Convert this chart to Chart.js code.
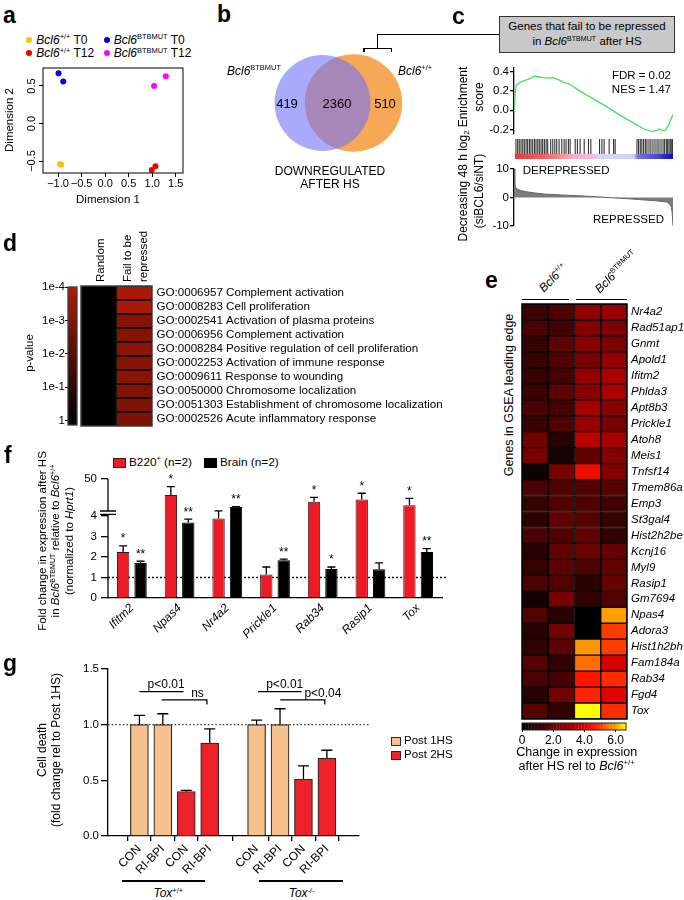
<!DOCTYPE html>
<html><head><meta charset="utf-8">
<script src="https://cdn.jsdelivr.net/npm/chart.js@4.4.1/dist/chart.umd.min.js"></script>
<style>
html,body{margin:0;padding:0;background:#fff}
body{width:684px;height:900px;position:relative;overflow:hidden;font-family:"Liberation Sans",Arial,Helvetica,sans-serif;color:#000}
canvas{position:absolute}
.t{position:absolute;white-space:nowrap;line-height:1}
.sp{font-size:0.62em;position:relative;top:-0.62em}
.shape{position:absolute;box-sizing:border-box}
</style></head><body>
<script>
// ================= DATA =================
// a: MDS plot
const mdsWtT0X=[-0.96,-0.93], mdsWtT0Y=[-0.54,-0.55];
const mdsWtT12X=[0.99,1.07], mdsWtT12Y=[-0.62,-0.57];
const mdsMutT0X=[-0.99,-0.89], mdsMutT0Y=[0.67,0.56];
const mdsMutT12X=[1.04,1.29], mdsMutT12Y=[0.50,0.63];
const mdsXTicks=[-1,-0.5,0,0.5,1,1.5];
const mdsYTicks=[-0.5,0,0.5];
// b: Venn (downregulated after HS)
const vennOnlyMut=419, vennBoth=2360, vennOnlyWT=510;
// c: GSEA
const esRank=[0,1,1.5,4.2,7.4,10.6,12.7,16.9,20.1,24.3,28.5,31.7,34.9,41.2,49.7,58.1,66.6,75.1,81.4,86.7,89.9,91.5,93.0,95.1,97.3,100];
const esScore=[0,0.22,0.26,0.29,0.31,0.33,0.35,0.34,0.33,0.335,0.31,0.285,0.27,0.20,0.12,0.04,-0.05,-0.13,-0.19,-0.22,-0.21,-0.19,-0.21,-0.21,-0.15,-0.04];
const esTicks=[-0.2,0,0.2,0.4];
const hitRanks=[0.6,1.7,2.7,3.8,4.9,5.9,7.0,8.0,9.1,10.1,11.2,12.3,13.3,14.4,15.4,16.5,17.5,18.6,19.7,20.7,22.6,23.9,25.2,26.4,27.9,29.6,31.1,32.3,33.8,34.9,38.1,39.5,41.2,43.8,46.5,48.0,53.5,55.0,56.4,59.6,62.4,63.4,77.2,78.2,79.3,80.3,81.4,82.5,83.5,84.8,86.0,87.3,88.6,89.9,91.1,92.4,93.7,94.7,95.8,96.6,97.5,98.3,99.2,99.8];
const metricRank=[0,0.5,1,2,4,8,13,19,30,41,52,62,72,83,90,96,98,99,99.5,100];
const metricVal=[10,5,3.5,3,2.5,2,1.6,1.2,0.9,0.6,0.25,-0.1,-0.45,-0.9,-1.2,-1.6,-2.3,-3.5,-5.5,-10];
const metricTicks=[-10,-5,0,5,10];
// d: GO enrichment
const goTerms=['GO:0006957 Complement activation','GO:0008283 Cell proliferation','GO:0002541 Activation of plasma proteins','GO:0006956 Complement activation','GO:0008284 Positive regulation of cell proliferation','GO:0002253 Activation of immune response','GO:0009611 Response to wounding','GO:0050000 Chromosome localization','GO:0051303 Establishment of chromosome localization','GO:0002526 Acute inflammatory response'];
const goPRandom=[1,1,1,1,1,1,1,1,1,1];
const goPFail=[1.3e-4,1.6e-4,1.0e-3,1.1e-3,8e-4,1.0e-3,8e-4,1.3e-3,1.2e-3,1.5e-3];
const pTicks=[1e-4,1e-3,1e-2,1e-1,1];
const pTickLabels=['1e-4','1e-3','1e-2','1e-1','1'];
// e: leading edge heatmap
const heatGenes=['Nr4a2','Rad51ap1','Gnmt','Apold1','Ifitm2','Phlda3','Apt8b3','Prickle1','Atoh8','Meis1','Tnfsf14','Tmem86a','Emp3','St3gal4','Hist2h2be','Kcnj16','Myl9','Rasip1','Gm7694','Npas4','Adora3','Hist1h2bh','Fam184a','Rab34','Fgd4','Tox'];
const heatWt1 =[1.2,1.5,1.1,1.1,1.1,1.2,1.5,1.2,2.2,2.3,0.3,1.5,1.1,0.9,1.5,0.8,1.1,1.5,0.4,1.6,0.8,1.0,1.7,1.5,0.8,1.7];
const heatWt2 =[1.6,1.3,1.8,1.6,1.4,1.8,1.4,1.6,0.8,0.5,2.3,1.6,1.6,1.9,1.6,1.9,1.8,1.6,2.3,0.8,2.2,1.8,1.0,1.4,2.2,1.0];
const heatMut1=[2.7,2.5,2.6,2.3,2.8,2.6,3.1,2.9,3.5,1.9,4.3,1.6,1.6,1.7,1.9,2.1,1.5,0.9,1.0,0.0,0.0,5.9,5.5,4.5,4.7,6.6];
const heatMut2=[2.9,2.4,2.4,2.8,3.2,3.2,2.6,2.3,3.1,2.5,2.5,1.7,1.3,1.1,1.0,2.0,1.9,2.0,1.6,6.0,5.0,5.0,4.0,4.8,4.1,4.8];
const heatTicks=[0,2,4,6];
const heatTickLabels=['0','2.0','4.0','6.0'];
// f: qPCR fold change
const fGenes=['Ifitm2','Npas4','Nr4a2','Prickle1','Rab34','Rasip1','Tox'];
const b220Mean=[2.24,27.1,3.87,1.14,17.2,20.7,12.3];
const b220Sem =[0.30,12.0,0.41,0.37,6.4,8.8,9.8];
const brainMean=[1.71,3.68,10.0,1.84,1.41,1.40,2.24];
const brainSem =[0.08,0.16,0.3,0.05,0.10,0.31,0.17];
const b220Sig=['*','*','','','*','*','*'];
const brainSig=['**','**','**','**','*','','**'];
const fTickVals=[0,1,2,3,4,50];
// g: cell death
const gCond=['CON','RI-BPI','CON','RI-BPI','CON','RI-BPI','CON','RI-BPI'];
const gPos=[0,1,2,3,5,6,7,8];
const gHS=[1,1,2,2,1,1,2,2];
const gMean=[1.0,1.0,0.40,0.835,1.0,1.0,0.51,0.70];
const gSem=[0.083,0.098,0.01,0.128,0.04,0.143,0.12,0.07];
const gYTicks=[0,0.5,1,1.5];
const gBrFrom=[0,0.95,5.06,6.01], gBrTo=[1.88,2.88,6.92,7.91], gBrY=[1.296,1.222,1.296,1.222], gBrTick=[false,true,false,true];
const gBrText=['p<0.01','ns','p<0.01','p<0.04'], gBrTextX=[1.14,2.48,6.2,7.83], gBrTextY=[1.356,1.282,1.356,1.282];

// ================= HELPERS =================
Chart.defaults.font.family='"Liberation Sans", Arial, Helvetica, sans-serif';
Chart.defaults.font.size=11.5;
Chart.defaults.color='#000';
Chart.defaults.animation=false;
Chart.defaults.events=[];
Chart.defaults.layout.autoPadding=false;
Chart.defaults.plugins.legend.display=false;
Chart.defaults.plugins.tooltip.enabled=false;

function mkCanvas(a,m){const c=document.createElement('canvas');const w=a.r-a.l+m.l+m.r,h=a.b-a.t+m.t+m.b;c.width=w;c.height=h;c.style.left=(a.l-m.l)+'px';c.style.top=(a.t-m.t)+'px';c.style.width=w+'px';c.style.height=h+'px';document.body.appendChild(c);return c;}
function zeroPad(s){s.paddingLeft=s.paddingRight=s.paddingTop=s.paddingBottom=0;}
const fitW=w=>s=>{s.width=w;zeroPad(s);};
const fitH=h=>s=>{s.height=h;zeroPad(s);};
const setTicks=vals=>s=>{s.ticks=vals.map(v=>({value:v}));};
const frame=(c,w)=>({id:'frame',afterDatasetsDraw(ch){const {ctx,chartArea:a}=ch;ctx.save();ctx.strokeStyle=c;ctx.lineWidth=w;ctx.strokeRect(a.left,a.top,a.right-a.left,a.bottom-a.top);ctx.restore();}});
function lerpStops(stops,v){if(v<=stops[0][0])return stops[0][1];for(let i=1;i<stops.length;i++){if(v<=stops[i][0]){const [a,ca]=stops[i-1],[b,cb]=stops[i];const t=(v-a)/(b-a);return ca.map((c,k)=>Math.round(c+(cb[k]-c)*t));}}return stops[stops.length-1][1];}
const heatStops=[[0,[0,0,0]],[1,[48,2,2]],[2,[102,2,2]],[3,[160,0,0]],[4,[215,0,0]],[4.5,[255,20,0]],[5,[255,60,0]],[5.5,[255,110,0]],[6,[255,160,0]],[6.6,[255,255,0]]];
const heatColor=v=>'rgb('+lerpStops(heatStops,v).join(',')+')';
const pStops=[[0,[0,0,0]],[4,[178,26,6]]];
const pColor=p=>'rgb('+lerpStops(pStops,-Math.log10(p)).join(',')+')';
const fmt1=v=>(v<0?'\u2212':'')+Math.abs(v).toFixed(1);

function T(x,y,html,o={}){const d=document.createElement('div');d.className='t';d.innerHTML=html;d.style.fontSize=(o.s||11.5)+'px';if(o.b)d.style.fontWeight='bold';if(o.i)d.style.fontStyle='italic';d.style.left=x+'px';d.style.top=y+'px';let tf;if(o.start!==undefined){d.style.transformOrigin='0 0';tf='rotate('+o.start+'deg) translate(0,-50%)';}else if(o.rot!==undefined){tf='translate(-50%,-50%) rotate('+o.rot+'deg)';}else{const ax=o.a==='c'?'-50%':o.a==='r'?'-100%':'0';tf='translate('+ax+',-50%)';}d.style.transform=tf;document.body.appendChild(d);return d;}
function S(x,y,w,h,bg,border,radius){const d=document.createElement('div');d.className='shape';d.style.left=x+'px';d.style.top=y+'px';d.style.width=w+'px';d.style.height=h+'px';if(bg)d.style.background=bg;if(border)d.style.border=border;if(radius)d.style.borderRadius=radius;document.body.appendChild(d);return d;}
function HL(x1,x2,y,w=1.3){S(x1,y-w/2,x2-x1,w,'#000');}
function VL(x,y1,y2,w=1.3){S(x-w/2,y1,w,y2-y1,'#000');}
const B6WT='<i>Bcl6</i><span class="sp">+/+</span>';
const B6MUT='<i>Bcl6</i><span class="sp">BTBMUT</span>';

// ================= PANEL A =================
{
 const a={l:43,t:68,r:183,b:173};
 const ds=(X,Y,c)=>({data:X.map((x,i)=>({x,y:Y[i]})),backgroundColor:c,borderColor:c,pointRadius:3,borderWidth:0});
 new Chart(mkCanvas(a,{l:43,t:4,r:8,b:22}),{type:'scatter',
  data:{datasets:[ds(mdsWtT0X,mdsWtT0Y,'#ffbf00'),ds(mdsWtT12X,mdsWtT12Y,'#f00000'),ds(mdsMutT0X,mdsMutT0Y,'#0000f0'),ds(mdsMutT12X,mdsMutT12Y,'#ff00ff')]},
  options:{responsive:false,layout:{padding:{left:0,top:4,right:8,bottom:0}},
   scales:{
    x:{type:'linear',min:-1.32,max:1.655,afterBuildTicks:setTicks(mdsXTicks),afterFit:fitH(22),border:{display:false},grid:{drawOnChartArea:false,tickLength:4,color:'#000'},ticks:{font:{size:11},padding:0,maxRotation:0,callback:v=>fmt1(v)}},
    y:{type:'linear',min:-0.66,max:0.74,afterBuildTicks:setTicks(mdsYTicks),afterFit:fitW(43),border:{display:false},grid:{drawOnChartArea:false,tickLength:4,color:'#000'},ticks:{font:{size:11},minRotation:90,crossAlign:'center',padding:-4,callback:v=>fmt1(v)}}
   }},
  plugins:[frame('#000',1)]});
 T(3,15,'a',{s:23,b:1});
 [[29.3,40,'#ffbf00',B6WT+' T0'],[106.7,40,'#0000f0',B6MUT+' T0'],[29.3,53.3,'#f00000',B6WT+' T12'],[106.7,53.3,'#ff00ff',B6MUT+' T12']].forEach(([x,y,c,h])=>{S(x-3,y-3,6,6,c,null,'50%');T(x+7,y,h,{s:12});});
 T(108,200,'Dimension 1',{s:11.5,a:'c'});
 T(10,120,'Dimension 2',{s:11.5,rot:-90});
}

// ================= PANEL B =================
{
 const a={l:218,t:40,r:458,b:166};
 const rMut=Math.sqrt(vennOnlyMut+vennBoth), rWT=Math.sqrt(vennOnlyWT+vennBoth);
 const union=vennOnlyMut+vennBoth+vennOnlyWT;
 const d=(rMut+rWT)*(vennOnlyMut+vennOnlyWT)/union;
 new Chart(mkCanvas(a,{l:0,t:0,r:0,b:0}),{type:'bubble',data:{datasets:[
   {data:[{x:-d/2,y:0,r:rMut*0.91}],backgroundColor:'rgba(113,113,247,0.6)',borderWidth:0,clip:false},
   {data:[{x:d/2,y:0,r:rWT*0.91}],backgroundColor:'#f7a857',borderWidth:0,clip:false}]},
  options:{responsive:false,layout:{padding:0,autoPadding:false},scales:{x:{display:false,min:-116.5,max:116.5},y:{display:false,min:-1,max:1}}}});
 T(217,14,'b',{s:23,b:1});
 T(227,71,B6MUT,{s:12});
 T(398,71,B6WT,{s:12});
 T(287,103,String(vennOnlyMut),{s:13,a:'c'});
 T(337,103,String(vennBoth),{s:13,a:'c'});
 T(385,103,String(vennOnlyWT),{s:13,a:'c'});
 T(330,171.3,'DOWNREGULATED',{s:12,a:'c'});
 T(330,184.3,'AFTER HS',{s:12,a:'c'});
 // bracket to panel c box
 HL(364,391.7,48.3); VL(364,48.3,52.5); VL(391.7,48.3,52.5); VL(377.8,34.3,48.3); HL(377.8,499,34.3);
}

// ================= PANEL C =================
{
 T(452,16,'c',{s:23,b:1});
 const box=S(499,16,176,37,'#c8c8c8','1.3px solid #333');
 box.style.textAlign='center';box.style.fontSize='11.5px';box.style.lineHeight='15px';box.style.paddingTop='2px';
 box.innerHTML='Genes that fail to be repressed<br>in '+B6MUT+' after HS';
 // enrichment
 {
  const a={l:514,t:68,r:673,b:134};
  new Chart(mkCanvas(a,{l:34,t:4,r:4,b:2}),{type:'scatter',data:{datasets:[{data:esRank.map((x,i)=>({x,y:esScore[i]})),showLine:true,borderColor:'#3de65c',borderWidth:1.3,pointRadius:0,tension:0}]},
   options:{responsive:false,layout:{padding:{left:0,top:4,right:4,bottom:2}},scales:{
    x:{type:'linear',display:false,min:0,max:100},
    y:{min:-0.244,max:0.435,afterBuildTicks:setTicks(esTicks),afterFit:fitW(34),border:{color:'#000',width:1.3},grid:{drawOnChartArea:false,tickLength:4,color:'#000',lineWidth:1.3},ticks:{font:{size:11.5},padding:1,callback:v=>v.toFixed(1)}}}}});
 }
 // barcode
 {
  const a={l:515,t:139,r:673,b:154};
  new Chart(mkCanvas(a,{l:0,t:0,r:0,b:0}),{type:'scatter',data:{datasets:[{data:hitRanks.map(x=>({x,y:0.5})),pointStyle:'line',pointRotation:90,pointRadius:7.5,pointBorderColor:'rgba(0,0,0,0.8)',pointBorderWidth:1.1,clip:false}]},
   options:{responsive:false,layout:{padding:0,autoPadding:false},scales:{x:{display:false,min:0,max:100},y:{display:false,min:0,max:1}}}});
  S(515,154,158,4.5,'linear-gradient(to right,#e53838 0%,#f06060 18%,#f49494 30%,#f5b0d0 38%,#f0bce0 50%,#d6d6f4 53%,#d0d0f4 75%,#7070e8 78%,#4848d8 90%,#2020c8 96%,#1010c0 100%)');
 }
 // ranked metric
 {
  const a={l:514,t:169,r:673,b:226};
  new Chart(mkCanvas(a,{l:34,t:6,r:4,b:4}),{type:'scatter',data:{datasets:[{data:metricRank.map((x,i)=>({x,y:metricVal[i]})),showLine:true,fill:'origin',backgroundColor:'#7b7b7b',borderColor:'#666',borderWidth:1,pointRadius:0}]},
   options:{responsive:false,layout:{padding:{left:0,top:6,right:4,bottom:4}},scales:{
    x:{type:'linear',display:false,min:0,max:100},
    y:{min:-10,max:10,afterBuildTicks:setTicks(metricTicks),afterFit:fitW(34),border:{color:'#000',width:1.3},grid:{drawOnChartArea:false,tickLength:4,color:'#000',lineWidth:1.3},ticks:{font:{size:11.5},padding:1,callback:v=>String(v)}}}}});
 }
 T(671,76,'FDR = 0.02',{s:11.5,a:'r'});
 T(671,90,'NES = 1.47',{s:11.5,a:'r'});
 T(522.7,170.5,'DEREPRESSED',{s:11.5});
 T(664,220,'REPRESSED',{s:11.5,a:'r'});
 T(463,97,'Enrichment',{s:12,rot:-90});
 T(479,97,'score',{s:12,rot:-90});
 T(463,186,'Decreasing 48 h log<span style="font-size:0.65em;position:relative;top:0.3em">2</span>',{s:12,rot:-90});
 T(479,191,'(siBCL6/siNT)',{s:12,rot:-90});
}

// ================= PANEL D =================
{
 T(3,243,'d',{s:23,b:1});
 const a={l:81,t:286,r:152,b:426};
 const mk=ps=>({data:goTerms.map(()=>1),backgroundColor:ps.map(pColor),borderColor:'#000',borderWidth:1,borderSkipped:false,barPercentage:1,categoryPercentage:1});
 new Chart(mkCanvas(a,{l:2,t:2,r:318,b:2}),{type:'bar',data:{labels:goTerms,datasets:[mk(goPRandom),mk(goPFail)]},
  options:{indexAxis:'y',responsive:false,layout:{padding:{left:2,top:2,right:0,bottom:2}},scales:{
   x:{stacked:true,display:false,min:0,max:2},
   y:{stacked:true,position:'right',grid:{display:false,drawTicks:false},border:{display:false},ticks:{font:{size:11.6},padding:4.5,autoSkip:false},afterFit:fitW(318)}}},
  plugins:[frame('#3a3f48',1.5)]});
 // p-value colour bar
 const cb={l:68,t:287,r:77,b:425};
 const cbPlug={id:'cbp',beforeDatasetsDraw(ch){const {ctx,chartArea:ar,scales:{y}}=ch;const g=ctx.createLinearGradient(0,ar.top,0,y.getPixelForValue(1));g.addColorStop(0,pColor(pTicks[0]));g.addColorStop(1,pColor(1));ctx.save();ctx.fillStyle=g;ctx.fillRect(ar.left,ar.top,ar.right-ar.left,ar.bottom-ar.top);ctx.strokeStyle='#3a3f48';ctx.lineWidth=1.3;ctx.strokeRect(ar.left,ar.top,ar.right-ar.left,ar.bottom-ar.top);ctx.restore();}};
 new Chart(mkCanvas(cb,{l:40,t:8,r:2,b:8}),{type:'scatter',data:{datasets:[]},
  options:{responsive:false,layout:{padding:{left:0,top:8,right:2,bottom:8}},scales:{
   x:{type:'linear',display:false,min:0,max:1},
   y:{type:'logarithmic',reverse:true,min:1e-4,max:Math.pow(10,0.13),afterBuildTicks:setTicks(pTicks),afterFit:fitW(40),border:{display:false},grid:{drawOnChartArea:false,tickLength:3,color:'#000'},ticks:{font:{size:11.5},padding:0,callback:(v,i)=>pTickLabels[i]}}}},
  plugins:[cbPlug]});
 T(30,353,'p-value',{s:11.5,rot:-90});
 T(101,282,'Random',{s:11.5,start:-90});
 T(127.5,282,'Fail to be',{s:11.5,start:-90});
 T(144,282,'repressed',{s:11.5,start:-90});
}

// ================= PANEL E =================
{
 T(485,280,'e',{s:23,b:1});
 const a={l:522,t:304,r:627,b:719};
 const mk=vals=>({data:heatGenes.map(()=>1),backgroundColor:vals.map(heatColor),borderColor:'#000',borderWidth:1,borderSkipped:false,barPercentage:1,categoryPercentage:1});
 new Chart(mkCanvas(a,{l:2,t:2,r:58,b:2}),{type:'bar',data:{labels:heatGenes,datasets:[mk(heatWt1),mk(heatWt2),mk(heatMut1),mk(heatMut2)]},
  options:{indexAxis:'y',responsive:false,layout:{padding:{left:2,top:2,right:0,bottom:2}},scales:{
   x:{stacked:true,display:false,min:0,max:4},
   y:{stacked:true,position:'right',grid:{display:false,drawTicks:false},border:{display:false},ticks:{font:{size:11.5,style:'italic'},padding:4,autoSkip:false},afterFit:fitW(58)}}},
  plugins:[frame('#000',1.5)]});
 // colour bar
 const cb={l:522,t:723,r:626,b:730};
 const cbPlug={id:'cbe',beforeDatasetsDraw(ch){const {ctx,chartArea:ar,scales:{x}}=ch;ctx.save();const step=0.2;for(let v=0;v<x.max;v+=step){const x0=x.getPixelForValue(v),x1=x.getPixelForValue(Math.min(v+step,x.max));ctx.fillStyle=heatColor(v+step/2);ctx.fillRect(x0,ar.top,x1-x0+0.3,ar.bottom-ar.top);}ctx.strokeStyle='#222';ctx.lineWidth=1;ctx.strokeRect(ar.left,ar.top,ar.right-ar.left,ar.bottom-ar.top);ctx.restore();}};
 new Chart(mkCanvas(cb,{l:8,t:2,r:10,b:16}),{type:'scatter',data:{datasets:[]},
  options:{responsive:false,layout:{padding:{left:8,top:2,right:10,bottom:0}},scales:{
   x:{type:'linear',min:0,max:6.66,afterBuildTicks:setTicks(heatTicks),afterFit:fitH(16),border:{display:false},grid:{drawOnChartArea:false,tickLength:2,color:'#000'},ticks:{font:{size:12},padding:1,maxRotation:0,callback:(v,i)=>heatTickLabels[i]}},
   y:{display:false,min:0,max:1}}},
  plugins:[cbPlug]});
 T(576.7,752,'Change in expression',{s:12.5,a:'c'});
 T(576.7,766,'after HS rel to '+B6WT,{s:12.5,a:'c'});
 T(509,395,'Genes in GSEA leading edge',{s:12.5,rot:-90});
 T(541,290,B6WT,{s:12,start:-45});
 T(597,291,B6MUT,{s:12,start:-45});
 HL(521.7,569,299.3); HL(576,626.7,299.3);
}

// ================= PANEL F =================
{
 T(4,455,'f',{s:23,b:1});
 const F_LOW=4,F_GAP=0.24,F_UMAX=5.8,F_TOP=fTickVals[fTickVals.length-1];
 const fK=(F_UMAX-F_LOW-F_GAP)/(F_TOP-F_LOW);
 const fwd=v=>v<=F_LOW?v:F_LOW+F_GAP+(v-F_LOW)*fK;
 const a={l:108,t:479,r:442,b:598};
 const ds=(lab,mean,sem,sig,bg,bc)=>({label:lab,data:mean.map(fwd),errTop:mean.map((m,i)=>fwd(m+sem[i])),sig:sig,backgroundColor:bg,borderColor:bc,borderWidth:1,categoryPercentage:0.73,barPercentage:0.71});
 const errSig={id:'errsig',afterDatasetsDraw(ch){const ctx=ch.ctx,y=ch.scales.y;ch.data.datasets.forEach((d,di)=>{const meta=ch.getDatasetMeta(di);meta.data.forEach((el,i)=>{const yt=y.getPixelForValue(d.errTop[i]);ctx.save();ctx.strokeStyle='#000';ctx.lineWidth=1.3;ctx.beginPath();ctx.moveTo(el.x,el.y);ctx.lineTo(el.x,yt);ctx.moveTo(el.x-4,yt);ctx.lineTo(el.x+4,yt);ctx.stroke();if(d.sig[i]){ctx.fillStyle='#000';ctx.font='12px "Liberation Sans", Arial';ctx.textAlign='center';ctx.textBaseline='bottom';ctx.fillText(d.sig[i],el.x,yt-1);}ctx.restore();});});}};
 const axPlug={id:'fax',beforeDatasetsDraw(ch){const {ctx,chartArea:ar,scales:{y}}=ch;const y1=y.getPixelForValue(1);ctx.save();ctx.setLineDash([2,2]);ctx.lineWidth=1.4;ctx.strokeStyle='#000';ctx.beginPath();ctx.moveTo(ar.left,y1);ctx.lineTo(ar.right+4,y1);ctx.stroke();ctx.restore();},
  afterDraw(ch){const {ctx,chartArea:ar,scales:{y}}=ch;const x=ar.left;ctx.save();ctx.strokeStyle='#000';ctx.lineWidth=1.3;ctx.beginPath();ctx.moveTo(x,y.getPixelForValue(0));ctx.lineTo(x,y.getPixelForValue(F_LOW+0.08));ctx.moveTo(x,y.getPixelForValue(F_LOW+F_GAP));ctx.lineTo(x,y.getPixelForValue(F_UMAX));[F_LOW+0.08,F_LOW+F_GAP].forEach(u=>{const yy=y.getPixelForValue(u);ctx.moveTo(x-8,yy);ctx.lineTo(x+8,yy);});ctx.stroke();ctx.restore();}};
 new Chart(mkCanvas(a,{l:30,t:8,r:8,b:45}),{type:'bar',data:{labels:fGenes,datasets:[ds('B220+ (n=2)',b220Mean,b220Sem,b220Sig,'#ed1c24','#3a1a1a'),ds('Brain (n=2)',brainMean,brainSem,brainSig,'#000','#000')]},
  options:{responsive:false,layout:{padding:{left:0,top:8,right:8,bottom:0}},scales:{
   x:{grid:{display:false,drawTicks:false},border:{color:'#000',width:1.3},afterFit:fitH(45),ticks:{font:{size:12,style:'italic'},minRotation:45,maxRotation:45,padding:3,autoSkip:false}},
   y:{min:0,max:F_UMAX,afterBuildTicks:setTicks(fTickVals.map(fwd)),afterFit:fitW(30),border:{display:false},grid:{drawOnChartArea:false,tickLength:7,color:'#000',lineWidth:1.3},ticks:{font:{size:11.5},padding:4,callback:(v,i)=>String(fTickVals[i])}}}},
  plugins:[axPlug,errSig]});
 S(113.3,458,12.7,10.3,'#ed1c24','1px solid #3a1a1a'); T(129,463,'B220<span class="sp">+</span> (n=2)',{s:11.8});
 S(204,458,12.7,10.3,'#000'); T(220,463,'Brain (n=2)',{s:11.8});
 T(42.5,541,'Fold change in expression after HS',{s:11.5,rot:-90});
 T(56,541,'in '+B6MUT+' relative to '+B6WT,{s:11.5,rot:-90});
 T(70,541,'(normalized to <i>Hprt1</i>)',{s:11.5,rot:-90});
}

// ================= PANEL G =================
{
 T(3,663,'g',{s:23,b:1});
 const a={l:108,t:669,r:359,b:836};
 const idx=h=>gHS.map((v,i)=>v===h?i:-1).filter(i=>i>=0);
 const ds=(h,lab,bg)=>{const I=idx(h);return {label:lab,data:I.map(i=>({x:gPos[i],y:gMean[i]})),errTop:I.map(i=>gMean[i]+gSem[i]),backgroundColor:bg,borderColor:'#2a2a2a',borderWidth:1.2,barThickness:18,grouped:false};};
 const errPlug={id:'gerr',afterDatasetsDraw(ch){const ctx=ch.ctx,y=ch.scales.y;ch.data.datasets.forEach((d,di)=>{ch.getDatasetMeta(di).data.forEach((el,i)=>{const yt=y.getPixelForValue(d.errTop[i]);ctx.save();ctx.strokeStyle='#000';ctx.lineWidth=1.3;ctx.beginPath();ctx.moveTo(el.x,el.y);ctx.lineTo(el.x,yt);ctx.moveTo(el.x-5.5,yt);ctx.lineTo(el.x+5.5,yt);ctx.stroke();ctx.restore();});});}};
 const annPlug={id:'gann',beforeDatasetsDraw(ch){const {ctx,chartArea:ar,scales:{x,y}}=ch;const y1=y.getPixelForValue(1);ctx.save();ctx.setLineDash([1.5,2.2]);ctx.lineWidth=1.2;ctx.strokeStyle='#333';ctx.beginPath();ctx.moveTo(ar.left,y1);ctx.lineTo(ar.right+11,y1);ctx.stroke();ctx.restore();},
  afterDraw(ch){const {ctx,scales:{x,y}}=ch;ctx.save();ctx.strokeStyle='#000';ctx.lineWidth=1.3;ctx.fillStyle='#000';ctx.font='12px "Liberation Sans", Arial';ctx.textAlign='center';ctx.textBaseline='middle';gBrFrom.forEach((f,i)=>{const yy=y.getPixelForValue(gBrY[i]);const x0=x.getPixelForValue(f),x1=x.getPixelForValue(gBrTo[i]);ctx.beginPath();ctx.moveTo(x0,yy);ctx.lineTo(x1,yy);if(gBrTick[i]){ctx.lineTo(x1,yy+4.5);}ctx.stroke();ctx.fillText(gBrText[i],x.getPixelForValue(gBrTextX[i]),y.getPixelForValue(gBrTextY[i]));});ctx.restore();}};
 new Chart(mkCanvas(a,{l:30,t:6,r:20,b:40}),{type:'bar',data:{datasets:[ds(1,'Post 1HS','#f6c18c'),ds(2,'Post 2HS','#ee2028')]},
  options:{responsive:false,layout:{padding:{left:0,top:6,right:20,bottom:0}},scales:{
   x:{type:'linear',min:-0.67,max:8.7,afterBuildTicks:setTicks(gPos),afterFit:fitH(40),border:{color:'#000',width:1.3},grid:{drawOnChartArea:false,tickLength:5,color:'#000',lineWidth:1.3},ticks:{font:{size:12},minRotation:45,maxRotation:45,padding:1,callback:(v,i)=>gCond[i]}},
   y:{min:0,max:1.5,afterBuildTicks:setTicks(gYTicks),afterFit:fitW(30),border:{color:'#000',width:1.3},grid:{drawOnChartArea:false,tickLength:7,color:'#000',lineWidth:1.3},ticks:{font:{size:11.5},padding:2,callback:v=>v.toFixed(1)}}}},
  plugins:[annPlug,errPlug]});
 HL(121.7,205,881); T(168.3,893.3,'<i>Tox</i><span class="sp">+/+</span>',{s:12,a:'c'});
 HL(259.3,343.3,881); T(301.7,893.3,'<i>Tox</i><span class="sp">-/-</span>',{s:12,a:'c'});
 S(390.7,736.7,10.5,9.5,'#f6c18c','1px solid #2a2a2a'); T(404,741.3,'Post 1HS',{s:11.5});
 S(390.7,750.7,10.5,9.5,'#ee2028','1px solid #2a2a2a'); T(404,755.3,'Post 2HS',{s:11.5});
 T(41.7,750,'Cell death',{s:12,rot:-90});
 T(56,750,'(fold change rel to Post 1HS)',{s:12,rot:-90});
}
</script>
</body></html>
